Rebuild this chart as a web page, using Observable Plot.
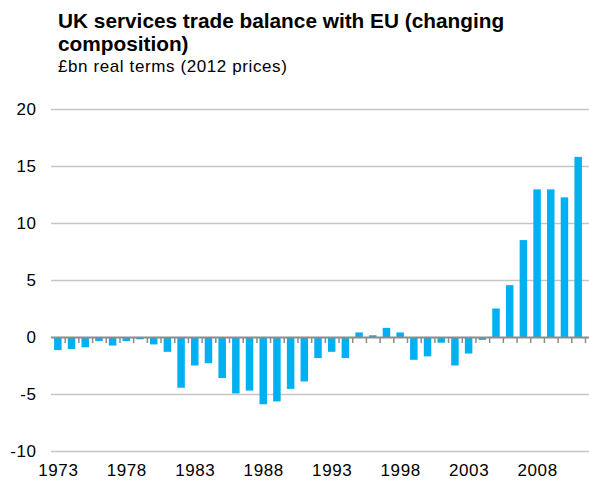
<!DOCTYPE html>
<html>
<head>
<meta charset="utf-8">
<script src="https://cdn.jsdelivr.net/npm/d3@7"></script>
<script src="https://cdn.jsdelivr.net/npm/@observablehq/plot@0.6"></script>
<style>
  html, body { margin: 0; padding: 0; background: #fff; }
  #wrap { position: relative; width: 589px; height: 481px; overflow: hidden; font-family: "Liberation Sans", Arial, sans-serif; }
  #title { position: absolute; left: 58px; top: 10px; font-size: 20.8px; font-weight: bold; line-height: 22.5px; color: #000; white-space: nowrap; }
  #subtitle { position: absolute; left: 58px; top: 58px; font-size: 17px; letter-spacing: 0.6px; line-height: 18px; color: #000; white-space: nowrap; }
  #chart { position: absolute; left: 0; top: 80px; }
  #chart svg text { letter-spacing: 0.6px; }
</style>
</head>
<body>
<div id="wrap">
  <div id="title">UK services trade balance with EU (changing<br>composition)</div>
  <div id="subtitle">£bn real terms (2012 prices)</div>
  <div id="chart"></div>
</div>
<script>
const years = [1973,1974,1975,1976,1977,1978,1979,1980,1981,1982,1983,1984,1985,1986,1987,1988,1989,1990,1991,1992,1993,1994,1995,1996,1997,1998,1999,2000,2001,2002,2003,2004,2005,2006,2007,2008,2009,2010,2011];
const balance = [-1.15,-1.05,-0.9,-0.35,-0.75,-0.35,-0.2,-0.65,-1.3,-4.45,-2.5,-2.3,-3.6,-4.95,-4.7,-5.9,-5.65,-4.55,-3.9,-1.85,-1.3,-1.85,0.4,0.15,0.8,0.4,-2.0,-1.7,-0.5,-2.5,-1.45,-0.25,2.5,4.55,8.5,12.95,12.95,12.25,15.8];
const yTicks = [-10,-5,0,5,10,15,20];
const xTickLabels = [1973,1978,1983,1988,1993,1998,2003,2008];

const data = years.map((year, i) => ({year, value: balance[i]}));
const boundaries = years.slice(1).map(y => y - 0.5).concat([years[years.length - 1] + 0.5]);

const chart = Plot.plot({
  width: 589,
  height: 401,
  marginTop: 29,
  marginBottom: 30,
  marginLeft: 51,
  marginRight: 4,
  style: {fontFamily: "'Liberation Sans', Arial, sans-serif", fontSize: "17px", color: "#000", background: "#fff"},
  x: {domain: [years[0] - 0.5, years[years.length - 1] + 0.5]},
  y: {domain: [-10, 20]},
  marks: [
    Plot.ruleY(yTicks.filter(d => d !== 0), {stroke: "#c6c6c6", strokeWidth: 1.5, insetRight: -4}),
    Plot.rectY(data, {x1: d => d.year - 0.5, x2: d => d.year + 0.5, y: "value", fill: "#00b0f0", insetLeft: 3.1, insetRight: 3.1}),
    Plot.ruleY([0], {stroke: "#8c8c8c", strokeWidth: 2, insetRight: -4}),
    Plot.ruleX(boundaries, {x: d => d, y1: 0, y2: 0, stroke: "#8c8c8c", strokeWidth: 1.5, insetBottom: -6}),
    Plot.axisY({ticks: yTicks, tickSize: 0, tickPadding: 15, tickFormat: d => String(d), label: null, fontSize: 17}),
    Plot.axisX({ticks: xTickLabels, tickSize: 0, tickPadding: 12, tickFormat: d => String(d), label: null, fontSize: 17})
  ]
});
document.getElementById("chart").appendChild(chart);
</script>
</body>
</html>
